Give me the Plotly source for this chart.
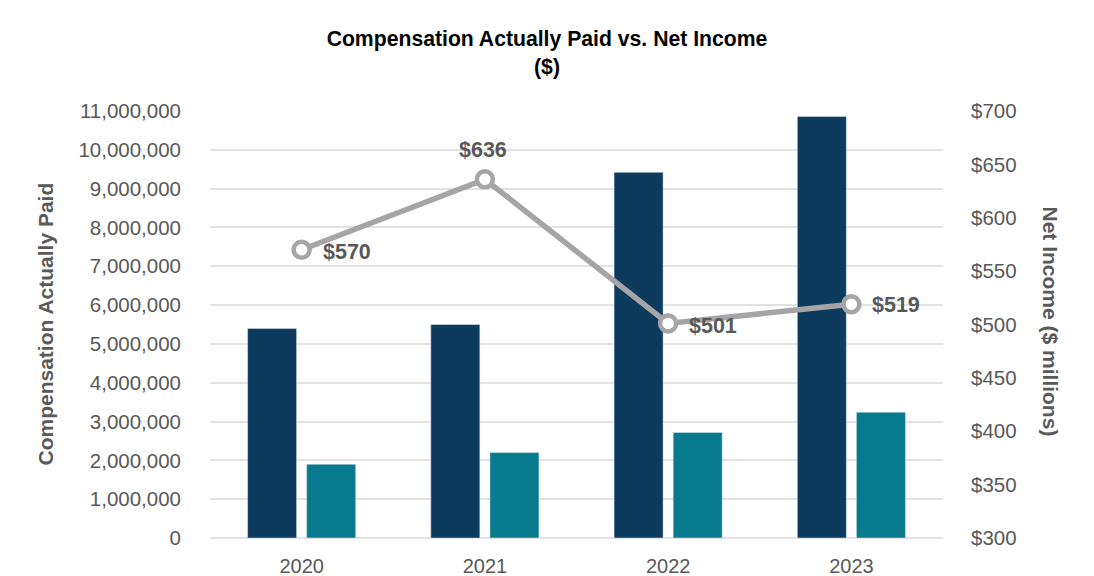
import plotly.graph_objects as go

years = ["2020", "2021", "2022", "2023"]
cap_peo = [5400000, 5500000, 9420000, 10860000]
cap_neo = [1900000, 2200000, 2720000, 3240000]
net_income = [570, 636, 501, 519]
net_income_labels = ["$570", "$636", "$501", "$519"]

FONT = "Arial, Liberation Sans, sans-serif"
GRAY_TXT = "#595959"
W, H = 1086, 568

fig = go.Figure()
fig.add_trace(go.Bar(x=years, y=cap_peo, marker_color="#0D3B5E", name="PEO CAP"))
fig.add_trace(go.Bar(x=years, y=cap_neo, marker_color="#087A8E", name="Other NEO CAP"))
fig.add_trace(go.Scatter(
    x=years, y=net_income, yaxis="y2", mode="lines+markers",
    line=dict(color="#A5A5A7", width=5.5),
    marker=dict(size=16, color="white", line=dict(color="#A5A5A7", width=4.5)),
    cliponaxis=False, name="Net Income",
))

# label placement offsets (px) relative to each point
label_dx = [19, -2, 19, 19]
label_dy = [-2, 29, -3, -1]
label_anchor = ["left", "center", "left", "left"]

annotations = []
for i, (v, t, dx, dy, anc) in enumerate(zip(net_income, net_income_labels, label_dx, label_dy, label_anchor)):
    annotations.append(dict(
        x=i, y=v, xref="x", yref="y2", text=f"<b>{t}</b>", showarrow=False,
        xanchor=anc, yanchor="middle", xshift=dx, yshift=dy,
        font=dict(family=FONT, size=21.5, color=GRAY_TXT),
    ))
annotations += [
    dict(
        text="<b>Compensation Actually Paid</b>", textangle=-90,
        xref="paper", yref="paper", x=0.0, y=0.5, xshift=-165,
        xanchor="center", yanchor="middle", showarrow=False,
        font=dict(family=FONT, size=21, color=GRAY_TXT),
    ),
    dict(
        text="<b>Net Income ($ millions)</b>", textangle=90,
        xref="paper", yref="paper", x=1.0, y=0.5, xshift=107, yshift=3,
        xanchor="center", yanchor="middle", showarrow=False,
        font=dict(family=FONT, size=21, color=GRAY_TXT),
    ),
]

fig.update_layout(
    width=W, height=H,
    paper_bgcolor="white", plot_bgcolor="white",
    margin=dict(l=202, r=151, t=103, b=38, autoexpand=False),
    showlegend=False,
    barmode="group", bargap=0.355, bargroupgap=0.17,
    title=dict(
        text="<b>Compensation Actually Paid vs. Net Income<br>($)</b>",
        x=539 / W, xref="container", xanchor="center",
        y=1 - 38 / H, yref="container", yanchor="top",
        font=dict(family=FONT, size=21.2, color="black"),
    ),
    font=dict(family=FONT, color=GRAY_TXT),
    xaxis=dict(
        type="category", range=[-0.5, 3.5],
        showgrid=False, showline=False, ticks="", automargin=False,
        tickfont=dict(size=20, color=GRAY_TXT),
        ticklabelstandoff=14,
    ),
    yaxis=dict(
        range=[0, 11000000], dtick=1000000, tickformat=",d", automargin=False,
        showgrid=True, gridcolor="#E2E2E2", gridwidth=2,
        zeroline=True, zerolinecolor="#E2E2E2", zerolinewidth=2,
        tickfont=dict(size=20.5, color=GRAY_TXT),
        ticklabelstandoff=28,
    ),
    yaxis2=dict(
        range=[300, 700], dtick=50, overlaying="y", side="right", automargin=False,
        showgrid=False, zeroline=False, tickprefix="$",
        tickfont=dict(size=20.5, color=GRAY_TXT),
        ticklabelstandoff=27,
    ),
    annotations=annotations,
)

fig.write_html("out.html")
